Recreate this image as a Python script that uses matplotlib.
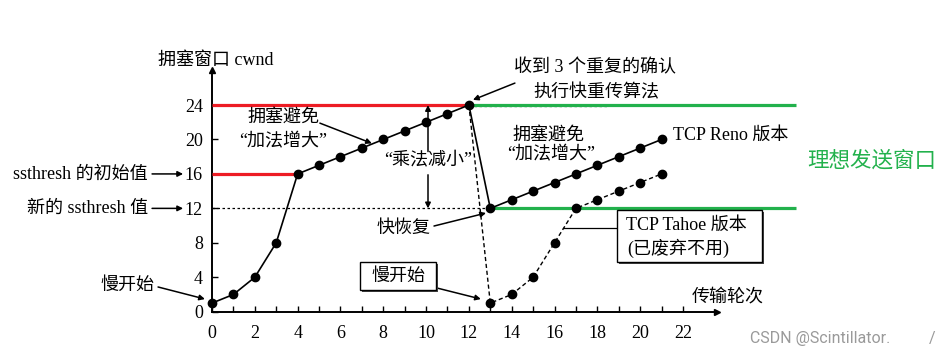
import matplotlib
matplotlib.use('Agg')
import matplotlib.pyplot as plt
from matplotlib.patches import Rectangle

# ---------------- data ----------------
rounds = list(range(0, 22))
reno_cwnd = [1, 2, 4, 8, 16, 17, 18, 19, 20, 21, 22, 23, 24,
             12, 13, 14, 15, 16, 17, 18, 19, 20]
tahoe_rounds = list(range(12, 22))
tahoe_cwnd = [24, 1, 2, 4, 8, 12, 13, 14, 15, 16]
x_ticks = list(range(0, 23))
x_tick_labels = [str(v) if v % 2 == 0 else '' for v in x_ticks]
y_ticks = [0, 4, 8, 12, 16, 20, 24]
ssthresh_init = 16
ssthresh_new = 12
peak_cwnd = 24
peak_round = 12
ss_end_round = 4
recover_round = 13
ideal_end_round = 27.3
old_peak_dash_end = 18.45

RED = '#ED1C24'
GREEN = '#22B14C'
FAM = ['Liberation Serif', 'Noto Sans CJK SC']
plt.rcParams['font.family'] = FAM
FS = 13

fig = plt.figure(figsize=(9.51, 3.60), dpi=100)
ax = fig.add_axes([212 / 951, 1 - 311.7 / 360, 505 / 951, 241.7 / 360])
ax.set_xlim(0, 23.59)
ax.set_ylim(0, 28.07)

for s in ('top', 'right'):
    ax.spines[s].set_visible(False)
for s in ('left', 'bottom'):
    ax.spines[s].set_linewidth(1.4)
ax.plot(1, 0, '>k', transform=ax.transAxes, clip_on=False, ms=5)
ax.plot(0, 1, '^k', transform=ax.transAxes, clip_on=False, ms=5)

ax.set_xticks(x_ticks)
ax.set_xticklabels(x_tick_labels)
ax.set_yticks(y_ticks)
ax.tick_params(axis='x', direction='in', length=4, width=1, pad=9.5, labelsize=FS)
ax.tick_params(axis='y', direction='in', length=4, width=1, pad=6.5, labelsize=FS)

# reference lines
ax.hlines(ssthresh_new, 0, recover_round, colors='k', linestyles=(0, (2, 2)), lw=0.9, zorder=2, clip_on=False)
ax.hlines(peak_cwnd - 0.12, peak_round, old_peak_dash_end, colors='k', linestyles=(0, (2, 2)), lw=0.9, zorder=2, clip_on=False)
ax.hlines(peak_cwnd, 0, peak_round, colors=RED, lw=2.3, zorder=3, clip_on=False)
ax.hlines(ssthresh_init, 0, ss_end_round, colors=RED, lw=2.3, zorder=3, clip_on=False)
ax.hlines(peak_cwnd, peak_round, ideal_end_round, colors=GREEN, lw=2.3, zorder=3, clip_on=False)
ax.hlines(ssthresh_new, recover_round, ideal_end_round, colors=GREEN, lw=2.3, zorder=3, clip_on=False)

# curves
ax.plot(tahoe_rounds, tahoe_cwnd, color='k', lw=1.0, ls=(0, (3, 2)), zorder=4, clip_on=False)
ax.plot(tahoe_rounds[1:], tahoe_cwnd[1:], 'o', color='k', ms=6, zorder=5, clip_on=False)
ax.plot(rounds, reno_cwnd, color='k', lw=1.2, marker='o', ms=6, zorder=5, clip_on=False)

arr = dict(arrowstyle='-|>', lw=1.1, color='k', mutation_scale=8, shrinkA=0, shrinkB=0)

def label(x, y, s, ha='center', va='center', **kw):
    ax.text(x, y, s, ha=ha, va=va, fontsize=FS, clip_on=False, **kw)

def arrow(x0, y0, x1, y1):
    ax.annotate('', xy=(x1, y1), xytext=(x0, y0), arrowprops=arr, annotation_clip=False)

label(-2.52, 29.23, '拥塞窗口 cwnd', ha='left')
label(-2.99, 16, 'ssthresh 的初始值', ha='right')
arrow(-2.80, 16, -1.35, 16)
label(-2.99, 12, '新的 ssthresh 值', ha='right')
arrow(-2.80, 12, -1.35, 12)

label(3.32, 22.6, '拥塞避免')
label(3.32, 19.7, '“加法增大”')
arrow(5.04, 21.9, 7.47, 19.55)

label(10.09, 17.5, '“乘法减小”')
arrow(10.09, 18.6, 10.09, 24)
arrow(10.09, 15.9, 10.09, 12)

label(17.89, 28.3, '收到 3 个重复的确认')
label(17.94, 25.4, '执行快重传算法')
arrow(14.15, 26.55, 12.19, 24.6)

label(15.74, 20.5, '拥塞避免')
label(15.83, 18.2, '“加法增大”')

label(21.53, 20.5, 'TCP Reno 版本', ha='left')
ax.text(27.79, 17.6, '理想发送窗口', ha='left', va='center', fontsize=15.5,
        color=GREEN, family=['Noto Sans CJK SC'], clip_on=False)

label(8.97, 9.72, '快恢复')
arrow(10.37, 9.95, 12.8, 11.46)

label(-3.97, 3.1, '慢开始')
arrow(-2.52, 2.87, -0.33, 1.47)

# boxed 慢开始
ax.add_patch(Rectangle((7.0, 2.3), 3.55, 3.25, facecolor='#444444', edgecolor='none', zorder=6, clip_on=False))
ax.add_patch(Rectangle((6.91, 2.52), 3.55, 3.25, facecolor='white', edgecolor='k', lw=1.0, zorder=7, clip_on=False))
ax.text(8.69, 4.15, '慢开始', ha='center', va='center', fontsize=FS, zorder=8, clip_on=False)
arrow(10.51, 2.75, 12.56, 1.47)

# Tahoe box
ax.add_patch(Rectangle((19.02, 5.55), 6.77, 6.04, facecolor='#444444', edgecolor='none', zorder=6, clip_on=False))
ax.add_patch(Rectangle((18.92, 5.77), 6.77, 6.04, facecolor='white', edgecolor='k', lw=1.0, zorder=7, clip_on=False))
ax.text(19.34, 10.07, 'TCP Tahoe 版本', ha='left', va='center', fontsize=FS, zorder=8, clip_on=False)
ax.text(19.38, 7.4, '(已废弃不用)', ha='left', va='center', fontsize=FS, zorder=8, clip_on=False)
ax.plot([16.39, 18.92], [9.72, 9.72], color='k', lw=0.9, zorder=6, clip_on=False)

label(22.42, 1.59, '传输轮次', ha='left')

fig.text(750 / 951, 1 - 338 / 360, 'CSDN @Scintillator.', ha='left', va='center',
         fontsize=11.5, color='#9a9a9a', family=['Roboto', 'DejaVu Sans'])
fig.text(932 / 951, 1 - 338 / 360, '/', ha='center', va='center',
         fontsize=11.5, color='#9a9a9a', family=['Roboto', 'DejaVu Sans'])

fig.savefig('out.png', dpi=100)
